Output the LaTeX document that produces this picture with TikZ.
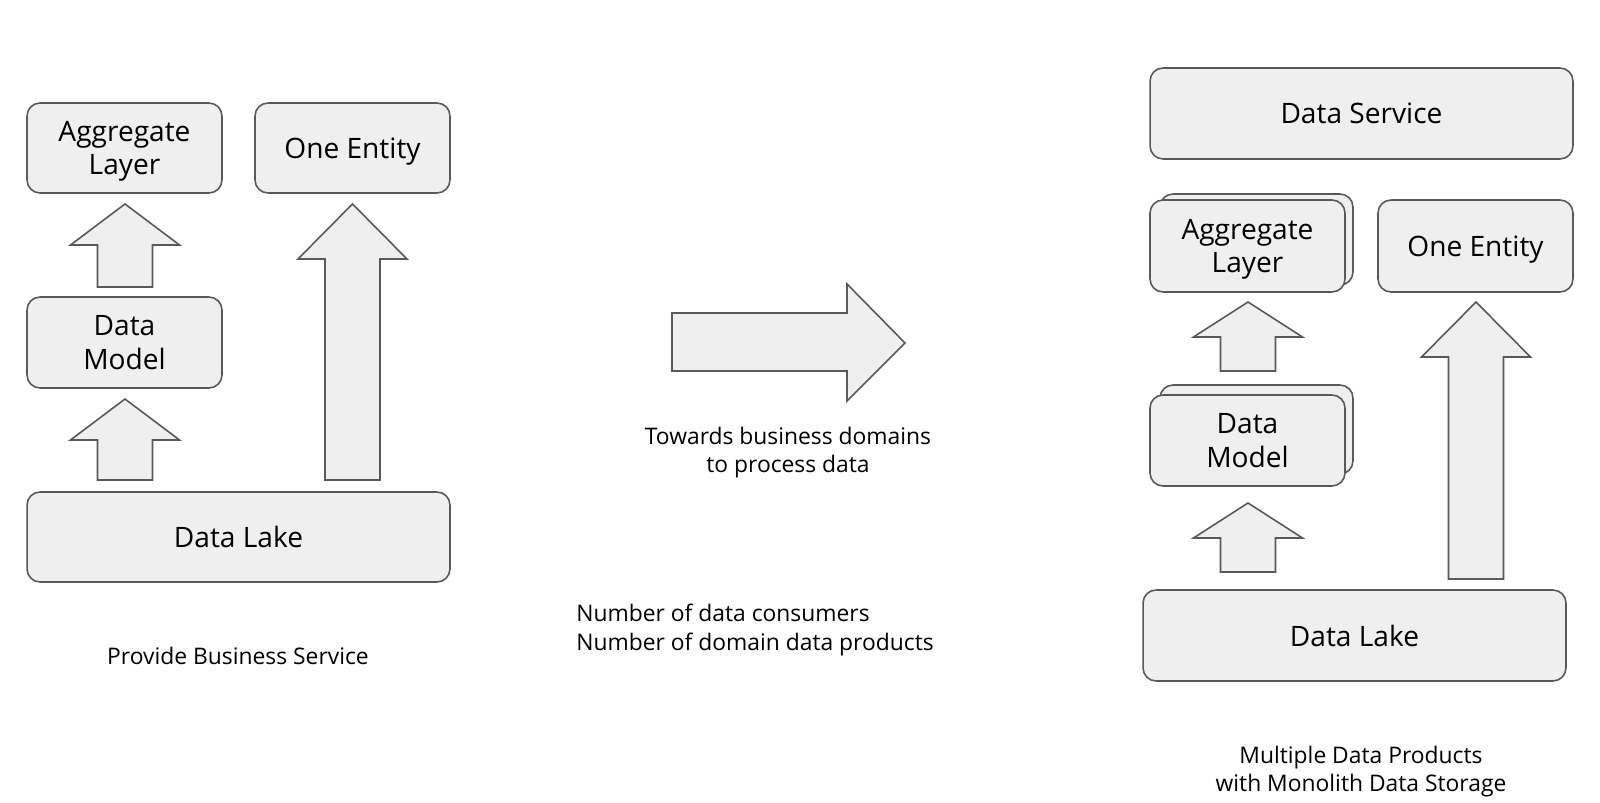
\documentclass[tikz,border=0pt]{standalone}
\usepackage{fontspec}
\setmainfont{Open Sans}
\usetikzlibrary{positioning}
\definecolor{boxfill}{HTML}{EFEFEF}
\definecolor{boxline}{HTML}{595959}

\tikzset{
  blk/.style={draw=boxline, fill=boxfill, line width=0.9pt, rounded corners=0.26cm,
    align=center, font=\fontsize{16}{19}\selectfont, inner sep=0pt, text depth=0pt},
  blkarrow/.style={draw=boxline, fill=boxfill, line width=0.9pt},
  note/.style={align=center, font=\fontsize{13}{16}\selectfont, inner sep=0pt}
}
% block arrow pointing up: x, tip y, head base y, bottom y
\newcommand{\blockup}[4]{%
  \draw[blkarrow] (#1-27.5,#4) -- (#1-27.5,#3) -- (#1-54.5,#3) -- (#1,#2)
    -- (#1+54.5,#3) -- (#1+27.5,#3) -- (#1+27.5,#4) -- cycle;}

\begin{document}
\begin{tikzpicture}[x=0.02cm, y=-0.02cm]
    \useasboundingbox (0,0) rectangle (1600,803);

    % Left: business service
    \node[blk, minimum width=3.9cm, minimum height=1.8cm] (agg) at (124.5,148) {Aggregate\\Layer};
    \node[blk, minimum width=3.9cm, minimum height=1.8cm] (ent) at (352.5,148) {One Entity};
    \node[blk, minimum width=3.9cm, minimum height=1.82cm] (dmod) at (124.5,342.5) {Data\\Model};
    \node[blk, minimum width=8.46cm, minimum height=1.8cm] (lake) at (238.5,537) {Data Lake};

    \blockup{125}{204}{245}{287}
    \blockup{125}{399}{440}{480}
    \blockup{352.5}{204}{259}{480}

    \node[note] (provide) at (238,656) {Provide Business Service};

    % Middle
    \draw[blkarrow] (672,313) -- (847,313) -- (847,284) -- (905,343)
      -- (847,401) -- (847,371) -- (672,371) -- cycle;
    \node[note] (towards) at (788,453) {Towards business domains\\to process data};
    \node[note, align=left, anchor=west] (number) at (576,630)
      {Number of data consumers\\Number of domain data products};

    % Right: data products
    \node[blk, minimum width=8.46cm, minimum height=1.82cm] (svc) at (1361.5,113.5) {Data Service};
    \node[blk, minimum width=3.86cm, minimum height=1.82cm] (aggback) at (1256.5,239.5) {};
    \node[blk, minimum width=3.9cm, minimum height=1.84cm] (agg2) at (1247.5,246) {Aggregate\\Layer};
    \node[blk, minimum width=3.9cm, minimum height=1.84cm] (ent2) at (1475.5,246) {One Entity};
    \node[blk, minimum width=3.86cm, minimum height=1.78cm] (dmodback) at (1256.5,429.5) {};
    \node[blk, minimum width=3.9cm, minimum height=1.82cm] (dmod2) at (1247.5,440.5) {Data\\Model};
    \node[blk, minimum width=8.46cm, minimum height=1.82cm] (lake2) at (1354.5,635.5) {Data Lake};

    \blockup{1248}{302}{337}{371}
    \blockup{1248}{503}{538}{572}
    \blockup{1476}{302}{357}{579}

    \node[note] (multi) at (1361,772) {Multiple Data Products\\with Monolith Data Storage};
\end{tikzpicture}
\end{document}
